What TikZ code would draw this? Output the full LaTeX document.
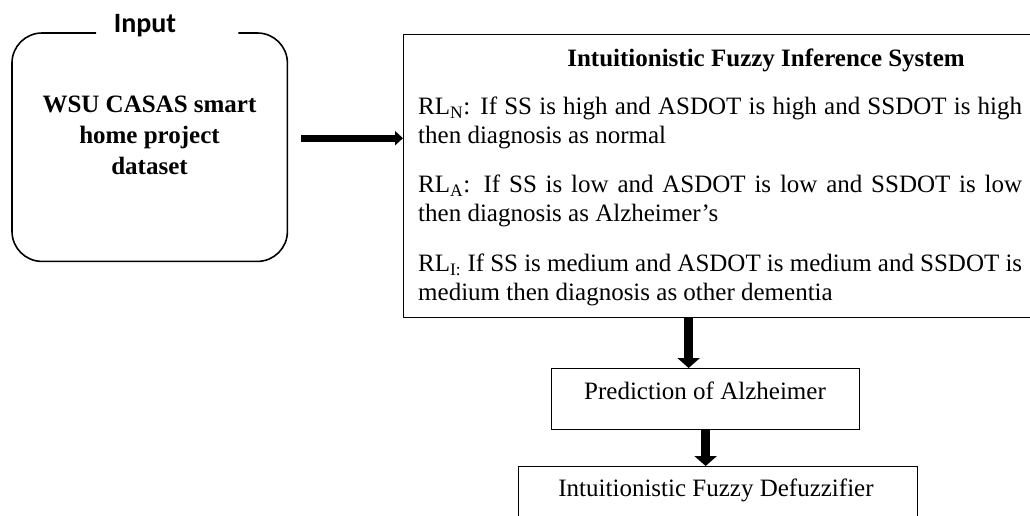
\documentclass[tikz,border=0pt]{standalone}
\usepackage{fontspec}
\setmainfont{Liberation Serif}
\newfontfamily\inputfont{Carlito}
\usetikzlibrary{arrows.meta}
\begin{document}
\begin{tikzpicture}[x=1pt,y=-1pt,
  every node/.style={inner sep=0pt, font=\fontsize{25}{29}\selectfont},
  box/.style={draw, line width=1.3pt, anchor=north west},
  rule/.style={anchor=north west, text width=604pt, align=justify},
  rarr/.style={line width=7pt, -{Triangle[length=8pt,width=14pt]}},
  darr/.style={line width=9pt, -{Triangle[length=10pt,width=22pt]}},
  bold/.style={font=\bfseries\fontsize{25}{31}\selectfont}]
\useasboundingbox (0,0) rectangle (1030,515);

% input block
\node[minimum width=275pt, minimum height=228pt, anchor=north west] (inp) at (12,33) {};
\draw[line width=1.6pt, rounded corners=30pt]
  ([xshift=-49pt]inp.north east) -- (inp.north east) -- (inp.south east)
  -- (inp.south west) -- (inp.north west) -- ([xshift=84pt]inp.north west);
\node[font=\inputfont\bfseries\fontsize{28}{32}\selectfont, anchor=base] (lbl) at (145,32) {Input};
\node[bold, align=center, anchor=north] (ds) at (149.5,96) {WSU CASAS smart\\home project\\dataset};

% inference system
\node[box, minimum width=640pt, minimum height=283pt] (ifis) at (403,34) {};
\node[bold, anchor=base] (title) at (766,66) {Intuitionistic Fuzzy Inference System};
\node[rule] (r1) at (418,97) {RL\textsubscript{N}: If SS is high and ASDOT is high and SSDOT is high\linebreak then diagnosis as normal};
\node[rule] (r2) at (418,175) {RL\textsubscript{A}: If SS is low and ASDOT is low and SSDOT is low\linebreak then diagnosis as Alzheimer's};
\node[rule] (r3) at (418,254) {RL\textsubscript{I:} If SS is medium and ASDOT is medium and SSDOT is\linebreak medium then diagnosis as other dementia};

% prediction and defuzzifier
\node[box, minimum width=308pt, minimum height=61pt] (pred) at (551,368) {};
\node[anchor=base] (predt) at (705,399) {Prediction of Alzheimer};
\node[box, minimum width=399pt, minimum height=80pt] (defz) at (518,466) {};
\node[anchor=base] (defzt) at (716,496) {Intuitionistic Fuzzy Defuzzifier};

% connectors
\coordinate (rs) at ([xshift=14pt,yshift=9pt]inp.east);
\draw[rarr] (rs) -- (rs -| ifis.west);
\coordinate (d1) at ([xshift=-17pt]pred.north);
\draw[darr] (d1 |- ifis.south) -- (d1);
\draw[darr] (pred.south) -- (pred.south |- defz.north);
\end{tikzpicture}
\end{document}
